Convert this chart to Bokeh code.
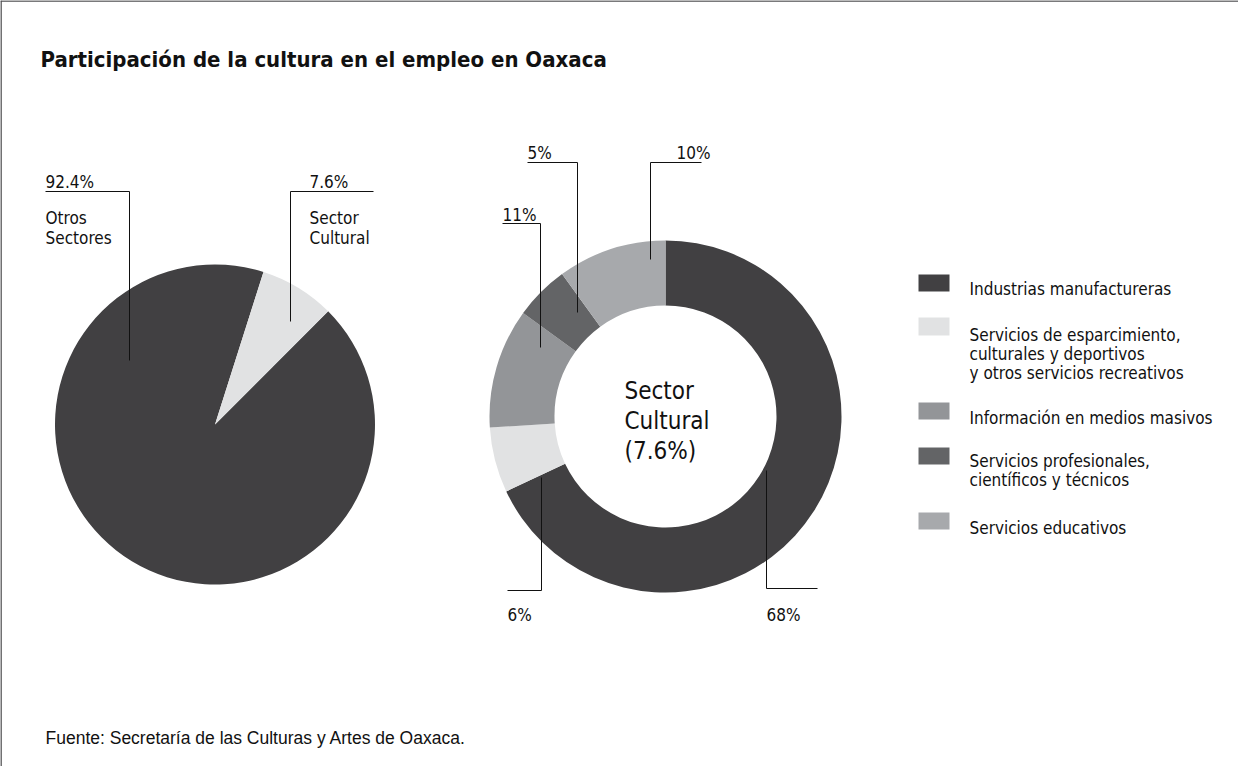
import math
from bokeh.plotting import figure
from bokeh.models import Range1d
from bokeh.core.properties import value
from bokeh.embed import file_html
from bokeh.resources import INLINE

# ---------------- data ----------------
title_text = "Participación de la cultura en el empleo en Oaxaca"
source_text = "Fuente: Secretaría de las Culturas y Artes de Oaxaca."

pie_labels = ["Otros\nSectores", "Sector\nCultural"]
pie_values = [92.4, 7.6]
pie_colors = ["#414042", "#e1e2e3"]

donut_labels = [
    "Industrias manufactureras",
    "Servicios de esparcimiento,\nculturales y deportivos\ny otros servicios recreativos",
    "Información en medios masivos",
    "Servicios profesionales,\ncientíficos y técnicos",
    "Servicios educativos",
]
donut_values = [68, 6, 11, 5, 10]
donut_colors = ["#414042", "#e1e2e3", "#939598", "#636466", "#a7a9ac"]
center_text = ["Sector", "Cultural", "(7.6%)"]

# ---------------- layout ----------------
W, H = 1238, 766
SH = 782  # screen height used for mapping


def Y(sy):
    return SH - sy


NARROW = value("DejaVu Sans Condensed, Roboto, sans-serif")
REG = value("Liberation Sans")

p = figure(width=W, height=H, x_range=Range1d(8, 8 + W), y_range=Range1d(8, 8 + H),
           output_backend="svg", toolbar_location=None, min_border=0,
           outline_line_color=None, background_fill_color="white",
           border_fill_color="white")
p.axis.visible = False
p.grid.visible = False

# frame lines (top and left only)
p.line([8, 1246], [Y(8.5), Y(8.5)], line_color="#4d4d4f", line_width=1.6)
p.line([8.5, 8.5], [Y(8), Y(774)], line_color="#4d4d4f", line_width=1.6)

# title
p.text([48], [Y(67)], text=[title_text], text_font=NARROW, text_font_style="bold",
       text_font_size="22px", text_color="#111111", text_baseline="alphabetic")

# footer
p.text([53], [Y(745)], text=[source_text], text_font=REG,
       text_font_size="17.5px", text_color="#111111", text_baseline="alphabetic")

# ---------------- pie ----------------
pie_cx, pie_cy, pie_r = 222.5, Y(432), 160
pie_start = 45.0  # compass degrees, clockwise from top
tot = sum(pie_values)
acc = pie_start
pst, pen = [], []
for v in pie_values:
    a0 = acc
    a1 = acc + 360.0 * v / tot
    pst.append(math.radians(90 - a0))
    pen.append(math.radians(90 - a1))
    acc = a1
p.wedge(x=[pie_cx] * len(pie_values), y=[pie_cy] * len(pie_values), radius=pie_r,
        start_angle=pst, end_angle=pen, direction="clock",
        fill_color=pie_colors, line_color=None)

# pie leaders: (polyline points, label x, pct baseline, name baselines)
pie_leaders = [
    ([(53, 199), (137, 199), (137, 368)], 53, 189, [225, 245]),
    ([(298, 329), (298, 199), (381, 199)], 317, 189, [225, 245]),
]
for (pts, lx, pb, nbs), v, name in zip(pie_leaders, pie_values, pie_labels):
    p.line([q[0] for q in pts], [Y(q[1]) for q in pts], line_color="#111111", line_width=1)
    p.text([lx], [Y(pb)], text=[f"{v}%"], text_font=NARROW, text_font_size="17px",
           text_color="#111111", text_baseline="alphabetic")
    for ln, b in zip(name.split("\n"), nbs):
        p.text([lx], [Y(b)], text=[ln], text_font=NARROW, text_font_size="17px",
               text_color="#111111", text_baseline="alphabetic")

# ---------------- donut ----------------
d_cx, d_cy, r_in, r_out = 673, Y(424), 111, 176
tot = sum(donut_values)
acc = 0.0
dst, den = [], []
for v in donut_values:
    a0 = acc
    a1 = acc + 360.0 * v / tot
    dst.append(math.radians(90 - a0))
    den.append(math.radians(90 - a1))
    acc = a1
p.annular_wedge(x=[d_cx] * len(donut_values), y=[d_cy] * len(donut_values),
                inner_radius=r_in, outer_radius=r_out,
                start_angle=dst, end_angle=den, direction="clock",
                fill_color=donut_colors, line_color=None)

donut_leaders = [
    ([(774, 478), (774, 596), (825, 596)], 774, 622),
    ([(549, 485), (549, 598), (515, 598)], 515, 622),
    ([(548, 355), (548, 231), (510, 231)], 510, 222),
    ([(585, 320), (585, 170), (535, 170)], 535, 160),
    ([(658, 267), (658, 170), (709, 170)], 684, 160),
]
for (pts, lx, pb), v in zip(donut_leaders, donut_values):
    p.line([q[0] for q in pts], [Y(q[1]) for q in pts], line_color="#111111", line_width=1)
    p.text([lx], [Y(pb)], text=[f"{v}%"], text_font=NARROW, text_font_size="17px",
           text_color="#111111", text_baseline="alphabetic")

for ln, b in zip(center_text, [398, 428, 458]):
    p.text([632], [Y(b)], text=[ln], text_font=NARROW, text_font_size="24px",
           text_color="#111111", text_baseline="alphabetic")

# ---------------- legend ----------------
leg_sq = [(282, 299), (325, 343), (410, 427), (455, 472), (520, 537)]
leg_base = [296, 342, 425, 468, 535]
for (t, b), base, lab, col in zip(leg_sq, leg_base, donut_labels, donut_colors):
    p.quad(left=[926], right=[957], top=[Y(t)], bottom=[Y(b)], fill_color=col, line_color=None)
    for i, ln in enumerate(lab.split("\n")):
        p.text([977], [Y(base + 19 * i)], text=[ln], text_font=NARROW, text_font_size="17px",
               text_color="#111111", text_baseline="alphabetic")

open("out.html", "w").write(file_html(p, INLINE))
